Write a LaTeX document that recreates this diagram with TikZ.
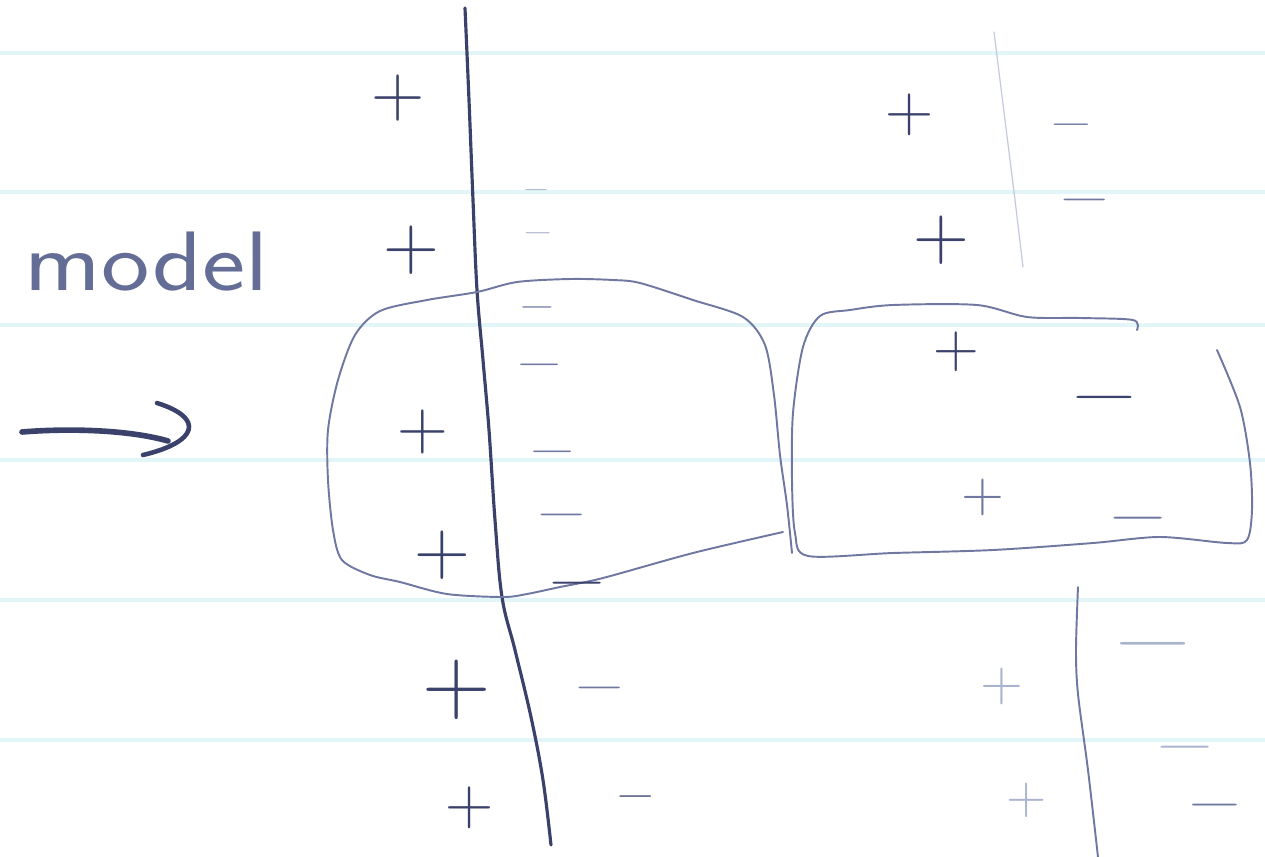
\RequirePackage{fix-cm}
\documentclass[tikz,border=0pt]{standalone}
\usepackage{tikz}
\definecolor{pen}{RGB}{58,66,108}
\definecolor{penlight}{RGB}{110,120,160}
\definecolor{penfaint}{RGB}{170,179,206}
\definecolor{ruleblue}{RGB}{226,245,249}
\newcommand{\flatsign}[1]{\scalebox{1.6}[1]{\smash{\raisebox{-0.25em}{$#1$}}}}

\begin{document}
\begin{tikzpicture}[x=0.01cm, y=-0.01cm,
  ruling/.style={draw=ruleblue, line width=0.9pt},
  stroke/.style={draw=pen, line width=0.9pt, line cap=round, line join=round},
  thinstroke/.style={draw=penlight, line width=0.55pt, line cap=round, line join=round},
  faintstroke/.style={draw=penfaint!70, line width=0.35pt, line cap=round},
  plussign/.style={text=pen, inner sep=0pt, font=\fontsize{#1}{#1}\selectfont},
  plussign/.default=21,
  minussign/.style={text=penlight, inner sep=0pt, font=\fontsize{#1}{#1}\selectfont},
  minussign/.default=11,
  dark/.style={text=pen},
  faded/.style={text=penfaint},
  wordlabel/.style={text=penlight!80!pen, inner sep=0pt, font=\sffamily\fontsize{24}{24}\selectfont}
]
\useasboundingbox (0,0) rectangle (1265,857);

\foreach \y in {53,192,325,460,600,740}
  \draw[ruling] (0,\y) -- (1265,\y);

\node[wordlabel, anchor=base west] (model) at (24,290) {\scalebox{1.22}[1]{model}};

\coordinate (tail) at (22,432);
\coordinate (tip) at (168,441);
\draw[stroke, line width=1.6pt] (tail) .. controls (70,428) and (130,430) .. (tip);
\draw[stroke, line width=1.3pt] (157,403) .. controls (205,418) and (198,442) .. (143,455);

\draw[stroke] plot[smooth, tension=0.6] coordinates {(465,8) (469,100) (473,200) (477,290)
  (483,360) (489,430) (495,520) (502,597) (515,650) (531,717) (543,780) (551,845)};

\draw[thinstroke] plot[smooth, tension=0.5] coordinates {(792,553) (787,505) (780,455) (774,395)
  (765,345) (743,317) (693,300) (640,283) (613,280) (570,279) (517,282) (477,292) (427,300)
  (380,311) (355,335) (338,380) (328,430) (328,480) (333,530) (342,560) (370,575) (400,582)
  (447,594) (503,597) (527,594) (560,587) (603,578) (693,553) (783,532)};

\draw[thinstroke] plot[smooth, tension=0.5] coordinates {(1137,330) (1133,320) (1080,318)
  (1027,317) (977,305) (893,305) (850,310) (820,316) (803,347) (793,413) (792,480) (795,533)
  (808,556) (893,553) (993,550) (1093,543) (1160,537) (1227,543) (1247,540) (1252,510)
  (1250,463) (1240,407) (1217,350)};

\draw[faintstroke] plot[smooth] coordinates {(994,32) (1005,120) (1015,200) (1023,267)};
\draw[thinstroke] plot[smooth] coordinates {(1078,587) (1076,650) (1078,694) (1088,770) (1098,857)};

\node[plussign=21] (p1) at (398,98) {$+$};
\node[plussign=22] (p2) at (411,250) {$+$};
\node[plussign=20] (p3) at (423,432) {$+$};
\node[plussign=22] (p4) at (442,555) {$+$};
\node[plussign=27] (p5) at (457,690) {$+$};
\node[plussign=19] (p6) at (470,808) {$+$};
\node[plussign=19] (p7) at (910,115) {$+$};
\node[plussign=22] (p8) at (941,240) {$+$};
\node[plussign=18] (p9) at (956,352) {$+$};
\node[plussign=16, text=penlight] (p10) at (983,497) {$+$};
\node[plussign=16, faded] (p11) at (1002,686) {$+$};
\node[plussign=15, faded] (p12) at (1027,800) {$+$};

\node[minussign=5, faded] (n1) at (536,190) {\flatsign{-}};
\node[minussign=6, faded] (n2) at (538,233) {\flatsign{-}};
\node[minussign=8] (n3) at (537,307) {\flatsign{-}};
\node[minussign=11] (n4) at (540,365) {\flatsign{-}};
\node[minussign=11] (n5) at (553,452) {\flatsign{-}};
\node[minussign=12] (n6) at (562,515) {\flatsign{-}};
\node[minussign=14, dark] (n7) at (577,583) {\flatsign{-}};
\node[minussign=12] (n8) at (600,688) {\flatsign{-}};
\node[minussign=9, dark] (n9) at (636,797) {\flatsign{-}};
\node[minussign=10] (n10) at (1071,125) {\flatsign{-}};
\node[minussign=12] (n11) at (1085,200) {\flatsign{-}};
\node[minussign=16, dark] (n12) at (1105,397) {\flatsign{-}};
\node[minussign=14] (n13) at (1138,518) {\flatsign{-}};
\node[minussign=19, faded] (n14) at (1153,644) {\flatsign{-}};
\node[minussign=14, faded] (n15) at (1185,747) {\flatsign{-}};
\node[minussign=13] (n16) at (1215,805) {\flatsign{-}};
\end{tikzpicture}
\end{document}
